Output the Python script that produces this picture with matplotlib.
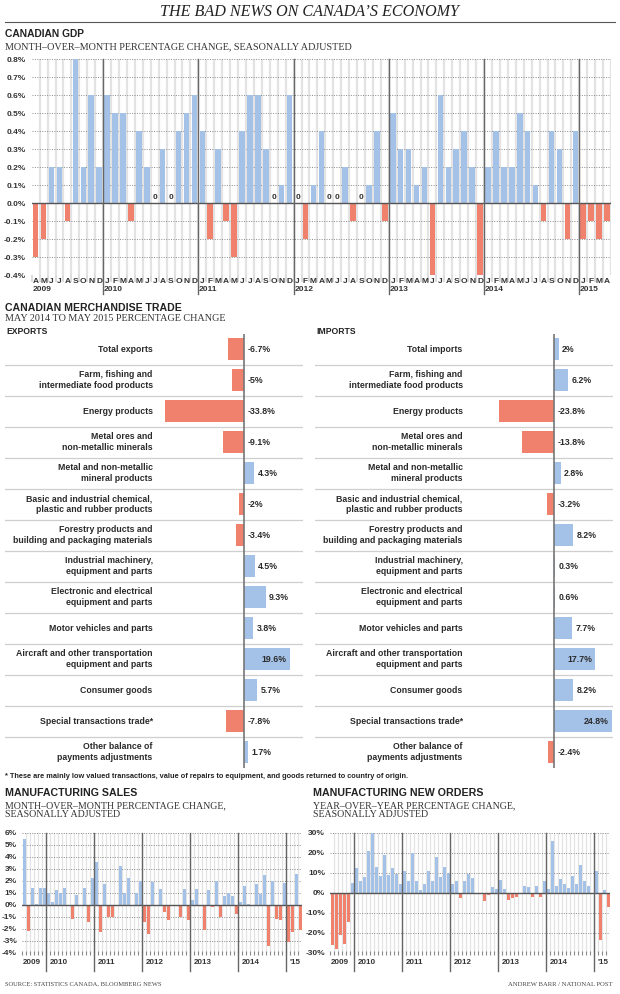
import matplotlib
matplotlib.use("Agg")
import matplotlib.pyplot as plt
import numpy as np

W, H = 620, 994
BLUE = '#a4c1e7'
RED = '#f0816d'
GRID = '#8a8a8a'
STRIPE = '#e3e3e3'
DARK = '#666666'
SANS = ['Liberation Sans', 'DejaVu Sans']
SERIF = ['Liberation Serif', 'DejaVu Serif']

# ---- data ----
gdp_months = 'AMJJASOND' + 'JFMAMJJASOND' * 5 + 'JFMA'
gdp_values = [-0.3, -0.2, 0.2, 0.2, -0.1, 0.8, 0.2, 0.6, 0.2,          # 2009
              0.6, 0.5, 0.5, -0.1, 0.4, 0.2, 0.0, 0.3, 0.0, 0.4, 0.5, 0.6,  # 2010
              0.4, -0.2, 0.3, -0.1, -0.3, 0.4, 0.6, 0.6, 0.3, 0.0, 0.1, 0.6,  # 2011
              0.0, -0.2, 0.1, 0.4, 0.0, 0.0, 0.2, -0.1, 0.0, 0.1, 0.4, -0.1,  # 2012
              0.5, 0.3, 0.3, 0.1, 0.2, -0.4, 0.6, 0.2, 0.3, 0.4, 0.2, -0.4,  # 2013
              0.2, 0.4, 0.2, 0.2, 0.5, 0.4, 0.1, -0.1, 0.4, 0.3, -0.2, 0.4,  # 2014
              -0.2, -0.1, -0.2, -0.1]                                       # 2015
gdp_year_labels = ['2009', '2010', '2011', '2012', '2013', '2014', '2015']

export_labels = ["Total exports",
                 "Farm, fishing and\nintermediate food products",
                 "Energy products",
                 "Metal ores and\nnon-metallic minerals",
                 "Metal and non-metallic\nmineral products",
                 "Basic and industrial chemical,\nplastic and rubber products",
                 "Forestry products and\nbuilding and packaging materials",
                 "Industrial machinery,\nequipment and parts",
                 "Electronic and electrical\nequipment and parts",
                 "Motor vehicles and parts",
                 "Aircraft and other transportation\nequipment and parts",
                 "Consumer goods",
                 "Special transactions trade*",
                 "Other balance of\npayments adjustments"]
import_labels = ["Total imports"] + export_labels[1:]
export_values = [-6.7, -5, -33.8, -9.1, 4.3, -2, -3.4, 4.5, 9.3, 3.8, 19.6, 5.7, -7.8, 1.7]
import_values = [2, 6.2, -23.8, -13.8, 2.8, -3.2, 8.2, 0.3, 0.6, 7.7, 17.7, 8.2, 24.8, -2.4]

# Jul 2009 .. Apr 2015
sales_values = [5.5, -2.2, 1.4, 0.1, 1.4, 1.4,                              # 2009
                1.0, 0.2, 1.2, 1.0, 1.4, 0.0, -1.2, 0.8, 0.0, 1.4, -1.4, 2.2,   # 2010
                3.6, -2.3, 1.7, -1.0, -1.0, 0.0, 3.2, 1.0, 2.2, 0.0, 1.0, 2.0,  # 2011
                -1.4, -2.4, 1.9, 0.0, 1.3, -0.6, -1.3, -0.1, 0.0, -1.0, 1.3, -1.3,  # 2012
                0.4, 1.3, 0.0, -2.1, 1.2, -0.2, 2.0, -1.0, 0.7, 1.0, 0.7, -0.8,  # 2013
                0.2, 1.6, 0.1, 0.0, 1.7, 0.9, 2.5, -3.4, 2.0, -1.2, -1.3, 1.8,  # 2014
                -3.1, -2.3, 2.6, -2.1]                                      # 2015
orders_values = [-26, -28, -21, -25.5, -14.5, 5,                            # 2009
                 12.5, 6, 8, 21, 30, 13, 8.5, 19, 9, 12.5, 9.5, 4.5,          # 2010
                 11, 6, 20, 6, 1.5, 4.5, 11, 6, 18, 8, 13, 10,                # 2011
                 4.5, 6, -2.5, 6, 9.5, 7.5, -0.3, 0, -4, -1, 3, 2,            # 2012
                 6.5, 2, -3.5, -2.5, -2, 0, 3.5, 3, -2, 3.5, -2, 6,           # 2013
                 2, 26, 3.5, 7, 4.5, 2.5, 8.5, 4.5, 14, 6, 3.5, -0.5,         # 2014
                 11, -23.5, 1.5, -7]                                        # 2015
mfg_year_labels = ['2009', '2010', '2011', '2012', '2013', '2014', "'15"]


def px_axes(fig, x0, y0, x1, y1):
    return fig.add_axes([x0 / W, 1 - y1 / H, (x1 - x0) / W, (y1 - y0) / H])


def ftext(fig, x, y, s, **kw):
    return fig.text(x / W, 1 - y / H, s, **kw)


def bar_colors(vals):
    return [BLUE if v >= 0 else RED for v in vals]


fig = plt.figure(figsize=(W / 100, H / 100), dpi=100)
fig.patch.set_facecolor('white')

# ---- header ----
ftext(fig, 310, 12, "THE BAD NEWS ON CANADA\u2019S ECONOMY", family=SERIF, style='italic',
      fontsize=11.6, ha='center', va='center', color='#222222')
fig.add_artist(plt.Line2D([5 / W, 615 / W], [1 - 22 / H, 1 - 22 / H], color='#555555', lw=0.8))
ftext(fig, 5, 34, "CANADIAN GDP", family=SANS, weight='bold', fontsize=7.4,
      ha='left', va='center', color='#222222')
ftext(fig, 5, 47, "MONTH\u2013OVER\u2013MONTH PERCENTAGE CHANGE, SEASONALLY ADJUSTED", family=SERIF,
      fontsize=7.3, ha='left', va='center', color='#333333')

# ---- GDP chart ----
ax = px_axes(fig, 31.7, 59, 611, 275)
n = len(gdp_values)
x = np.arange(n)
for i in range(n):
    ax.axvline(i + 0.5, color=STRIPE, lw=1.6, zorder=0)
gdp_ticks = np.round(np.arange(-0.4, 0.81, 0.1), 1)
for yv in gdp_ticks:
    ax.axhline(yv, color=GRID, lw=0.7, ls=(0, (1, 1.5)), zorder=1)
ax.bar(x, gdp_values, width=0.7, color=bar_colors(gdp_values), zorder=2)
ax.axhline(0, color='#555555', lw=1, zorder=3)
ax.set_xlim(-0.5, n - 0.5)
ax.set_ylim(-0.4, 0.8)
ax.set_yticks(gdp_ticks)
ax.set_yticklabels([f"{abs(v) if v == 0 else v:.1f}%" for v in gdp_ticks],
                   family=SANS, weight='bold', fontsize=6, color='#333333')
ax.tick_params(axis='y', length=0, pad=4)
ax.set_xticks(np.arange(n) - 0.5)
ax.set_xticklabels([])
ax.tick_params(axis='x', length=5, width=1.2, color='#d5d5d5')
for s in ax.spines.values():
    s.set_visible(False)
tr = ax.get_xaxis_transform()
yr = 0
for i, m in enumerate(gdp_months):
    ax.text(i, -0.03, m, transform=tr, ha='center', va='center', family=SANS,
            weight='bold', fontsize=6, color='#333333', clip_on=False)
    if gdp_values[i] == 0:
        ax.text(i, 0.012, '0', ha='center', va='bottom', family=SANS, weight='bold',
                fontsize=6, color='#333333')
    if i == 0 or m == 'J' and gdp_months[i - 1] == 'D':
        if i > 0:
            ax.plot([i - 0.5, i - 0.5], [1, -0.09], transform=tr, color=DARK, lw=1,
                    clip_on=False, zorder=4)
        ax.text(i - 0.4, -0.068, gdp_year_labels[yr], transform=tr, ha='left', va='center',
                family=SANS, weight='bold', fontsize=6, color='#333333', clip_on=False)
        yr += 1

# ---- merchandise trade ----
ftext(fig, 5, 308, "CANADIAN MERCHANDISE TRADE", family=SANS, weight='bold',
      fontsize=7.6, ha='left', va='center', color='#222222')
ftext(fig, 5, 318.5, "MAY 2014 TO MAY 2015 PERCENTAGE CHANGE", family=SERIF,
      fontsize=7.3, ha='left', va='center', color='#333333')


def trade_panel(x0, head, labels, values):
    ftext(fig, x0 + 1, 332, head, family=SANS, weight='bold', fontsize=6.2,
          ha='left', va='center', color='#222222')
    a = px_axes(fig, x0, 333.5, x0 + 298, 767.5)
    k = len(values)
    y = np.arange(k)
    a.barh(y, values, height=0.72, color=bar_colors(values), zorder=2)
    for j in range(k - 1):
        a.axhline(j + 0.5, color='#cfcfcf', lw=0.9, zorder=1)
    a.axvline(0, color='#777777', lw=1.2, zorder=3)
    a.set_xlim(-102.6, 25.3)
    a.set_ylim(k - 0.5, -0.5)
    a.axis('off')
    for j, (lab, v) in enumerate(zip(labels, values)):
        a.text(-39.2, j, lab, ha='right', va='center', family=SANS, fontsize=6.3,
               weight='bold', color='#2a2a2a', linespacing=1.2)
        s = f"{v:g}%"
        if v > 15:
            a.text(v - 1.2, j, s, ha='right', va='center', family=SANS, fontsize=6.3,
                   weight='bold', color='#2a2a2a')
        else:
            a.text(max(v, 0) + 1.5, j, s, ha='left', va='center', family=SANS,
                   weight='bold', fontsize=6.3, color='#2a2a2a')


trade_panel(5, "EXPORTS", export_labels, export_values)
trade_panel(315, "IMPORTS", import_labels, import_values)

ftext(fig, 5, 776.5, "* These are mainly low valued transactions, value of repairs to equipment, "
      "and goods returned to country of origin.", family=SANS, weight='bold', fontsize=5.3,
      ha='left', va='center', color='#222222')


# ---- manufacturing ----
def mfg_panel(x0, title, sub, values, ylim, step):
    ftext(fig, x0 + 5, 793, title, family=SANS, weight='bold', fontsize=7.7,
          ha='left', va='center', color='#222222')
    ftext(fig, x0 + 5, 810.5, sub, family=SERIF, fontsize=7.1, ha='left', va='center',
          color='#333333', linespacing=0.95)
    a = px_axes(fig, x0 + 22, 832.7, x0 + 302, 952.7)
    k = len(values)
    xs = np.arange(k)
    for i in range(k):
        a.axvline(i + 0.5, color=STRIPE, lw=0.9, zorder=0)
    ticks = np.arange(ylim[0], ylim[1] + step / 2, step)
    for yv in ticks:
        a.axhline(yv, color=GRID, lw=0.7, ls=(0, (1, 1.5)), zorder=1)
    a.bar(xs, values, width=0.75, color=bar_colors(values), zorder=2)
    a.axhline(0, color='#555555', lw=1, zorder=3)
    a.set_xlim(-0.5, k - 0.5)
    a.set_ylim(*ylim)
    a.set_yticks(ticks)
    a.set_yticklabels([f"{v:.0f}%" for v in ticks], family=SANS, weight='bold', fontsize=6,
                      color='#333333')
    a.tick_params(axis='y', length=0, pad=3.5)
    a.set_xticks(xs - 0.5)
    a.set_xticklabels([])
    a.tick_params(axis='x', length=2.5, width=0.8, color=GRID, direction='inout')
    for s in a.spines.values():
        s.set_visible(False)
    tr2 = a.get_xaxis_transform()
    starts = [0] + list(range(6, k, 12))
    for yi, st in enumerate(starts):
        if st > 0:
            a.plot([st - 0.5, st - 0.5], [1, -0.15], transform=tr2, color=DARK, lw=1,
                   clip_on=False, zorder=4)
            xl = st + 0.5
        else:
            xl = st - 0.25
        a.text(xl, -0.085, mfg_year_labels[yi], transform=tr2, ha='left', va='center',
               family=SANS, weight='bold', fontsize=5.8, color='#333333', clip_on=False)


mfg_panel(0, "MANUFACTURING SALES",
          "MONTH\u2013OVER\u2013MONTH PERCENTAGE CHANGE,\nSEASONALLY ADJUSTED",
          sales_values, (-4, 6), 1)
mfg_panel(308, "MANUFACTURING NEW ORDERS",
          "YEAR\u2013OVER\u2013YEAR PERCENTAGE CHANGE,\nSEASONALLY ADJUSTED",
          orders_values, (-30, 30), 10)

ftext(fig, 5, 984, "SOURCE: STATISTICS CANADA, BLOOMBERG NEWS", family=SERIF, fontsize=4.7,
      ha='left', va='center', color='#444444')
ftext(fig, 612, 984, "ANDREW BARR / NATIONAL POST", family=SERIF, fontsize=4.8,
      ha='right', va='center', color='#444444')

fig.savefig('out.png', dpi=100, facecolor='white')
